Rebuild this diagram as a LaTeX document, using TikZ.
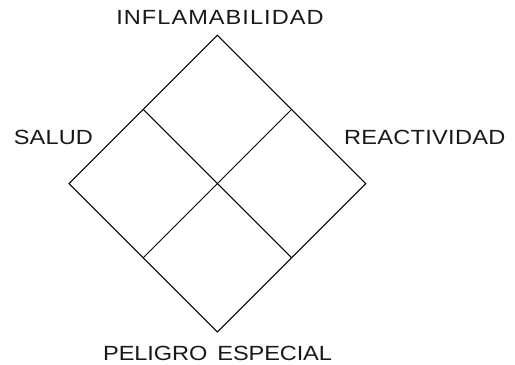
\documentclass[tikz,border=0pt]{standalone}
\usepackage{fontspec}
\usetikzlibrary{calc}
\setmainfont{Liberation Sans}
\newfontfamily\lblfont[FakeStretch=1.15]{Liberation Sans}
\begin{document}
\begin{tikzpicture}[x=1bp,y=-1bp,
  lbl/.style={anchor=base,inner sep=0pt,text=black!90,font=\lblfont\fontsize{20.5bp}{23bp}\selectfont},
  edge/.style={draw=black,line width=1bp,line join=miter}]
\useasboundingbox (0,0) rectangle (515,364);
\coordinate (T) at (217.4,35.2);
\coordinate (R) at (365.8,183.6);
\coordinate (B) at (217.4,332.0);
\coordinate (L) at (69.0,183.6);
\coordinate (TL) at ($(T)!0.5!(L)$);
\coordinate (TR) at ($(T)!0.5!(R)$);
\coordinate (BL) at ($(B)!0.5!(L)$);
\coordinate (BR) at ($(B)!0.5!(R)$);
\draw[edge] (T) -- (R) -- (B) -- (L) -- cycle;
\draw[edge] (TL) -- (BR);
\draw[edge] (TR) -- (BL);
\node[lbl] (inf) at (220.0,24.3) {\addfontfeature{LetterSpace=5.0}INFLAMABILIDAD};
\node[lbl] (sal) at (53.4,144) {\addfontfeature{LetterSpace=0.5}SALUD};
\node[lbl] (rea) at (424.7,144) {\addfontfeature{LetterSpace=1.4}REACTIVIDAD};
\node[lbl] (pel) at (217.6,360.3) {\addfontfeature{LetterSpace=-0.5}PELIGRO\hspace{3.5bp} ESPECIAL};
\end{tikzpicture}
\end{document}
